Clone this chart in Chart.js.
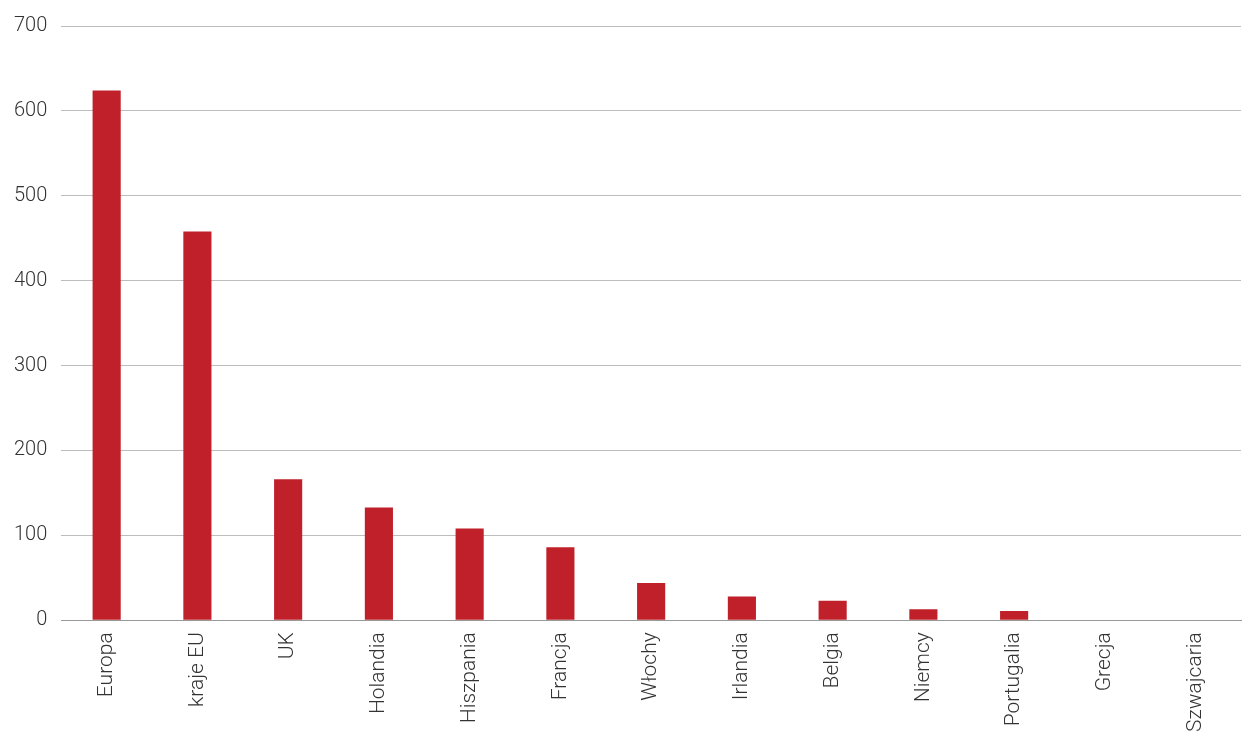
<!DOCTYPE html>
<html>
<head>
<meta charset="utf-8">
<script src="https://cdn.jsdelivr.net/npm/chart.js@4"></script>
<style>
  html, body { margin: 0; padding: 0; background: #fff; }
  #wrap { width: 1251px; height: 738px; }
</style>
</head>
<body>
<div id="wrap"><canvas id="chart" width="1251" height="738"></canvas></div>
<script>
const categories = ['Europa', 'kraje EU', 'UK', 'Holandia', 'Hiszpania', 'Francja', 'Włochy', 'Irlandia', 'Belgia', 'Niemcy', 'Portugalia', 'Grecja', 'Szwajcaria'];
const values = [624, 458, 166, 133, 108, 86, 44, 28, 23, 13, 11, 0, 0];
const yTicks = [0, 100, 200, 300, 400, 500, 600, 700];

new Chart(document.getElementById('chart').getContext('2d'), {
    type: 'bar',
    data: {
        labels: categories,
        datasets: [{
            data: values,
            backgroundColor: '#c0202a',
            categoryPercentage: 1,
            barPercentage: 0.31
        }]
    },
    options: {
        responsive: false,
        animation: false,
        layout: { padding: { top: -4, right: 10, left: 0, bottom: 2 } },
        plugins: { legend: { display: false }, tooltip: { enabled: false } },
        scales: {
            x: {
                grid: { display: false },
                border: { display: true, color: '#999' },
                ticks: {
                    color: '#333',
                    padding: 4,
                    font: { family: 'Roboto', size: 21, weight: 300 },
                    maxRotation: 90,
                    minRotation: 90
                }
            },
            y: {
                min: 0,
                max: 700,
                afterBuildTicks: axis => { axis.ticks = yTicks.map(v => ({ value: v })); },
                grid: { color: '#bdbdbd', drawTicks: false },
                border: { display: false },
                ticks: {
                    color: '#333',
                    padding: 14,
                    font: { family: 'Roboto', size: 20, weight: 300 }
                }
            }
        }
    }
});
</script>
</body>
</html>
